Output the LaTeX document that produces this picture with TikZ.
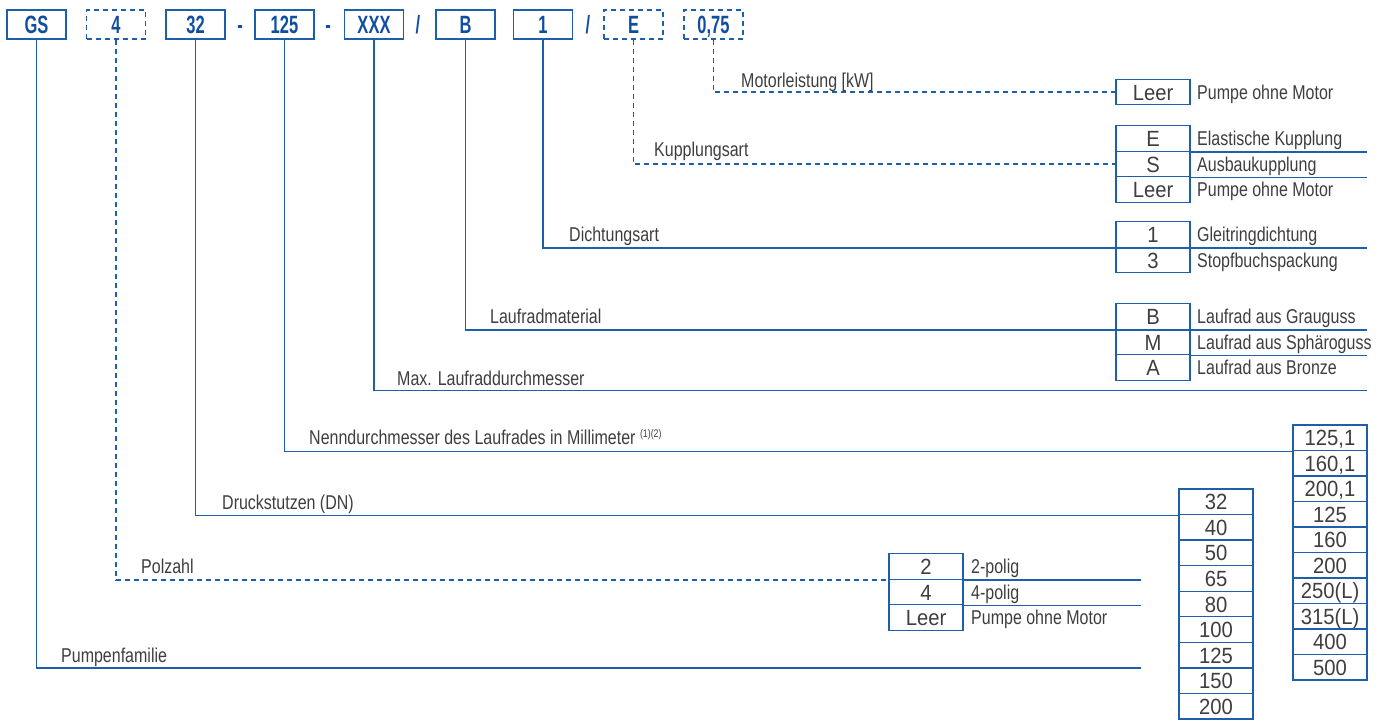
\documentclass[tikz,border=0pt]{standalone}
\usepackage{fontspec}
\setmainfont{Liberation Sans}[FakeStretch=0.8]
\newfontfamily\valfont{Liberation Sans}[FakeStretch=0.92]
\newfontfamily\codefont{Liberation Sans}[FakeStretch=0.66]
\definecolor{lblue}{RGB}{30,95,172}
\definecolor{cblue}{RGB}{18,78,160}
\definecolor{tgray}{RGB}{62,62,62}
\tikzset{
  conn/.style={draw=lblue,line width=1.3pt},
  dconn/.style={conn,dash pattern=on 5pt off 4pt},
  codebox/.style={draw=lblue,line width=1.3pt,minimum width=59pt,minimum height=29pt,inner sep=0pt,
     text=cblue,font=\codefont\bfseries\fontsize{25}{25}\selectfont,text height=18pt,text depth=0pt},
  dcodebox/.style={codebox,dash pattern=on 5pt off 4pt},
  sep/.style={text=cblue,font=\codefont\bfseries\fontsize{25}{25}\selectfont,inner sep=0pt,text height=18pt,text depth=0pt},
  valbox/.style={draw=lblue,line width=1.3pt,minimum width=74pt,minimum height=25.5pt,inner sep=0pt,
     text=tgray,font=\valfont\fontsize{22}{22}\selectfont,text height=16pt,text depth=0pt},
  desc/.style={text=tgray,font=\fontsize{20}{20}\selectfont,inner sep=0pt,anchor=base west},
  lbl/.style={text=tgray,font=\fontsize{20}{20}\selectfont,inner sep=0pt,anchor=base west},
}
\begin{document}
\begin{tikzpicture}[x=1pt,y=-1pt]
\useasboundingbox (0,0) rectangle (1381,720);
% code boxes
\node[codebox]  (gs)   at (36.5,24.5) {GS};
\node[dcodebox] (p4)   at (116,24.5) {4};
\node[codebox]  (d32)  at (195.5,24.5) {32};
\node[sep]      (s1)   at (240,24.5) {-};
\node[codebox]  (n125) at (284.5,24.5) {125};
\node[sep]      (s2)   at (328,24.5) {-};
\node[codebox]  (xxx)  at (374,24.5) {XXX};
\node[sep]      (s3)   at (418,24.5) {/};
\node[codebox]  (b)    at (465.5,24.5) {B};
\node[codebox]  (one)  at (543,24.5) {1};
\node[sep]      (s4)   at (588,24.5) {/};
\node[dcodebox] (e)    at (633.5,24.5) {E};
\node[dcodebox] (kw)   at (713.5,24.5) {0,75};
% end coordinates
\coordinate (rEnd) at (1367,0);
\coordinate (pEnd) at (1141,0);
% Motor
\node[valbox] (mL) at (1153,92) {Leer};
\node[desc] (mLd) at (1197,99) {Pumpe ohne Motor};
% Kupplung
\node[valbox] (kE) at (1153,138.5) {E};
\node[valbox] (kS) at (1153,164) {S};
\node[valbox] (kL) at (1153,189.5) {Leer};
\node[desc] (kEd) at (1197,145.5) {Elastische Kupplung};
\node[desc] (kSd) at (1197,171) {Ausbaukupplung};
\node[desc] (kLd) at (1197,196.5) {Pumpe ohne Motor};
\draw[conn] (kE.south east) -- (kE.south east -| rEnd);
\draw[conn] (kS.south east) -- (kS.south east -| rEnd);
% Dichtung
\node[valbox] (d1) at (1153,234.5) {1};
\node[valbox] (d3) at (1153,260) {3};
\node[desc] (d1d) at (1197,241.5) {Gleitringdichtung};
\node[desc] (d3d) at (1197,267) {Stopfbuchspackung};
% Laufrad
\node[valbox] (lB) at (1153,316.5) {B};
\node[valbox] (lM) at (1153,342) {M};
\node[valbox] (lA) at (1153,367.5) {A};
\node[desc] (lBd) at (1197,323.5) {Laufrad aus Grauguss};
\node[desc] (lMd) at (1197,349) {Laufrad aus Sphäroguss};
\node[desc] (lAd) at (1197,374.5) {Laufrad aus Bronze};
\draw[conn] (lM.south east) -- (lM.south east -| rEnd);
% Polzahl
\node[valbox] (p2) at (926,566.5) {2};
\node[valbox] (p4r) at (926,592) {4};
\node[valbox] (pL) at (926,617.5) {Leer};
\node[desc] (p2d) at (971,573.5) {2-polig};
\node[desc] (p4d) at (971,599) {4-polig};
\node[desc] (pLd) at (971,624.5) {Pumpe ohne Motor};
\draw[conn] (p2.south east) -- (p2.south east -| pEnd);
\draw[conn] (p4r.south east) -- (p4r.south east -| pEnd);
% DN column
\foreach \v [count=\i from 0] in {32,40,50,65,80,100,125,150,200}
  \node[valbox] (dn\i) at (1216,{501.8+\i*25.55}) {\v};
% Nenn column
\node[valbox] (nn0) at (1330,437.8) {125,1};
\node[valbox] (nn1) at (1330,463.3) {160,1};
\node[valbox] (nn2) at (1330,488.8) {200,1};
\node[valbox] (nn3) at (1330,514.3) {125};
\node[valbox] (nn4) at (1330,539.8) {160};
\node[valbox] (nn5) at (1330,565.3) {200};
\node[valbox] (nn6) at (1330,590.8) {250(L)};
\node[valbox] (nn7) at (1330,616.3) {315(L)};
\node[valbox] (nn8) at (1330,641.8) {400};
\node[valbox] (nn9) at (1330,667.3) {500};
% connectors and labels
\draw[dconn] (kw.south) |- (mL.west);
\node[lbl] (tMot) at (741,87) {Motorleistung [kW]};
\draw[dconn] (e.south) |- (kS.west);
\node[lbl] (tKup) at (654,156) {Kupplungsart};
\draw[conn] (one.south) |- (d1.south east -| rEnd);
\node[lbl] (tDicht) at (569,241) {Dichtungsart};
\draw[conn] (b.south) |- (lB.south east -| rEnd);
\node[lbl] (tLauf) at (490,323) {Laufradmaterial};
\coordinate (maxEnd) at (1367,390.5);
\draw[conn] (xxx.south) |- (maxEnd);
\node[lbl] (tMax) at (397,385) {Max. Laufraddurchmesser};
\draw[conn] (n125.south) |- (nn0.south west);
\node[lbl] (tNenn) at (309,444) {Nenndurchmesser des Laufrades in Millimeter \raisebox{7pt}{\fontsize{11}{11}\selectfont(1)(2)}};
\draw[conn] (d32.south) |- (dn0.south west);
\node[lbl] (tDruck) at (222,509) {Druckstutzen (DN)};
\draw[dconn] (p4.south) |- (p2.south west);
\node[lbl] (tPol) at (141,573) {Polzahl};
\coordinate (famEnd) at (1141,668);
\draw[conn] (gs.south) |- (famEnd);
\node[lbl] (tFam) at (61,662) {Pumpenfamilie};
\end{tikzpicture}
\end{document}
